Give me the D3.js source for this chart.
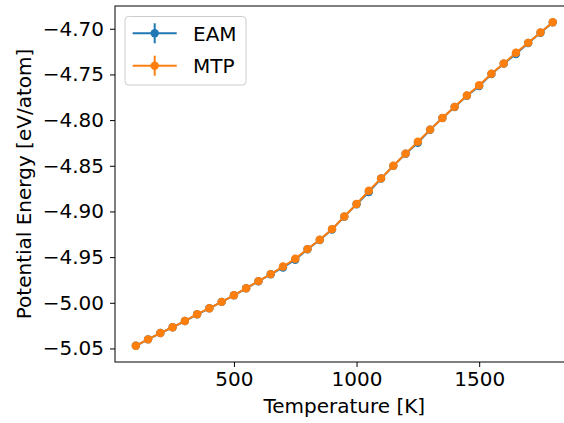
<!DOCTYPE html>
<html>
<head>
<meta charset="utf-8">
<script src="https://cdn.jsdelivr.net/npm/d3@7"></script>
<style>
    body { margin: 0; background: #fff; }
    svg { display: block; font-family: "DejaVu Sans", sans-serif; }
</style>
</head>
<body>
<svg id="drawing_region"></svg>
<script>
// temperatures in K
const temperatures = [100, 150, 200, 250, 300, 350, 400, 450, 500, 550, 600, 650, 700, 750,
    800, 850, 900, 950, 1000, 1050, 1100, 1150, 1200, 1250, 1300, 1350, 1400, 1450, 1500,
    1550, 1600, 1650, 1700, 1750, 1800];

// potential energy, eV/atom
const mtp = [-5.0470, -5.0400, -5.0330, -5.0268, -5.0199, -5.0125, -5.0059, -4.9990, -4.9917,
    -4.9840, -4.9763, -4.9686, -4.9603, -4.9518, -4.9412, -4.9310, -4.9193, -4.9055, -4.8919,
    -4.8773, -4.8638, -4.8499, -4.8367, -4.8236, -4.8104, -4.7976, -4.7855, -4.7731, -4.7618,
    -4.7493, -4.7380, -4.7263, -4.7154, -4.7041, -4.6928];

const eam = [-5.0471, -5.0400, -5.0331, -5.0268, -5.0200, -5.0126, -5.0060, -4.9990, -4.9918,
    -4.9841, -4.9764, -4.9688, -4.9613, -4.9528, -4.9414, -4.9312, -4.9198, -4.9057, -4.8921,
    -4.8788, -4.8640, -4.8501, -4.8369, -4.8248, -4.8106, -4.7978, -4.7857, -4.7733, -4.7628,
    -4.7495, -4.7382, -4.7276, -4.7156, -4.7043, -4.6930];

const x_ticks = [500, 1000, 1500];
const y_ticks = [-5.05, -5.00, -4.95, -4.90, -4.85, -4.80, -4.75, -4.70];

const series = [
    {label: 'EAM', values: eam, color: '#1f77b4'},
    {label: 'MTP', values: mtp, color: '#ff7f0e'}
];

const config = {
    width: 564,
    height: 423,
    margin: {top: 6, left: 115, bottom: 61},
    inner_width: 458.6,
    font: '20px'
};

const svg = d3.select('#drawing_region')
    .attr('width', config.width)
    .attr('height', config.height);

const inner_height = config.height - config.margin.top - config.margin.bottom;

const chart = svg.append('g')
    .attr('transform', `translate(${config.margin.left}, ${config.margin.top})`);

// matplotlib style 5% margins
const xpad = (d3.max(temperatures) - d3.min(temperatures)) * 0.05;
const all_y = mtp.concat(eam);
const ypad = (d3.max(all_y) - d3.min(all_y)) * 0.05;

const xscale = d3.scaleLinear()
    .domain([d3.min(temperatures) - xpad, d3.max(temperatures) + xpad])
    .range([0, config.inner_width]);

const yscale = d3.scaleLinear()
    .domain([d3.min(all_y) - ypad, d3.max(all_y) + ypad])
    .range([inner_height, 0]);

const xaxis = d3.axisBottom(xscale)
    .tickValues(x_ticks)
    .tickFormat(d3.format('d'))
    .tickSize(5)
    .tickPadding(5)
    .tickSizeOuter(0);

const minus = s => s.replace('-', '\u2212');
const yaxis = d3.axisLeft(yscale)
    .tickValues(y_ticks)
    .tickFormat(d => minus(d3.format('.2f')(d)))
    .tickSize(5)
    .tickPadding(6)
    .tickSizeOuter(0);

const xaxis_group = chart.append('g')
    .attr('transform', `translate(0, ${inner_height})`)
    .call(xaxis);

const yaxis_group = chart.append('g')
    .call(yaxis);

[xaxis_group, yaxis_group].forEach(g => {
    g.attr('font-size', null).attr('font-family', null);
    g.selectAll('text').style('font-size', config.font).attr('fill', '#000');
    g.selectAll('line').attr('stroke', '#000').attr('stroke-width', 1);
    g.select('.domain').remove();
});

// frame
chart.append('rect')
    .attr('x', 0)
    .attr('y', 0)
    .attr('width', config.inner_width)
    .attr('height', inner_height)
    .attr('fill', 'none')
    .attr('stroke', '#000')
    .attr('stroke-width', 1);

const line = d3.line()
    .x((d, i) => xscale(temperatures[i]))
    .y(d => yscale(d));

series.forEach(s => {
    const g = chart.append('g');
    g.append('path')
        .datum(s.values)
        .attr('d', line)
        .attr('fill', 'none')
        .attr('stroke', s.color)
        .attr('stroke-width', 2);
    g.selectAll('circle')
        .data(s.values)
        .join('circle')
        .attr('cx', (d, i) => xscale(temperatures[i]))
        .attr('cy', d => yscale(d))
        .attr('r', 4.2)
        .attr('fill', s.color);
});

// axis labels
svg.append('text')
    .attr('x', config.margin.left + config.inner_width / 2)
    .attr('y', 413)
    .attr('text-anchor', 'middle')
    .style('font-size', config.font)
    .text('Temperature [K]');

svg.append('text')
    .attr('transform', `translate(31, ${config.margin.top + inner_height / 2}) rotate(-90)`)
    .attr('text-anchor', 'middle')
    .style('font-size', config.font)
    .text('Potential Energy [eV/atom]');

// legend
const legend = svg.append('g');
legend.append('rect')
    .attr('x', 125)
    .attr('y', 16.5)
    .attr('width', 121)
    .attr('height', 68.5)
    .attr('rx', 3.5)
    .attr('fill', '#fff')
    .attr('fill-opacity', 0.8)
    .attr('stroke', '#cccccc')
    .attr('stroke-width', 1);

series.forEach((s, i) => {
    const y = 33.3 + i * 32.4;
    const g = legend.append('g');
    g.append('line')
        .attr('x1', 132.7).attr('x2', 176.7)
        .attr('y1', y).attr('y2', y)
        .attr('stroke', s.color).attr('stroke-width', 2);
    g.append('line')
        .attr('x1', 154.7).attr('x2', 154.7)
        .attr('y1', y - 10).attr('y2', y + 10)
        .attr('stroke', s.color).attr('stroke-width', 2);
    g.append('circle')
        .attr('cx', 154.7).attr('cy', y)
        .attr('r', 4.2)
        .attr('fill', s.color);
    g.append('text')
        .attr('x', 193)
        .attr('y', y)
        .attr('dy', '0.36em')
        .style('font-size', config.font)
        .text(s.label);
});
</script>
</body>
</html>
